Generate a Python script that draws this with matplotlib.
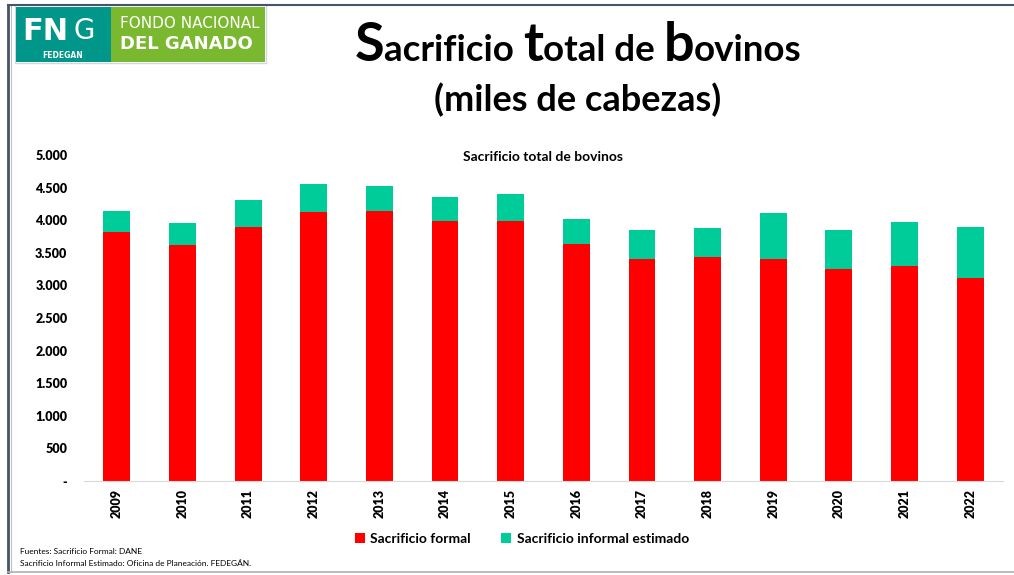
import numpy as np
import matplotlib.pyplot as plt
from matplotlib.patches import Rectangle
from matplotlib.lines import Line2D
from matplotlib.ticker import FuncFormatter

years = ['2009', '2010', '2011', '2012', '2013', '2014', '2015',
         '2016', '2017', '2018', '2019', '2020', '2021', '2022']
formal = [3823, 3620, 3896, 4126, 4136, 3983, 3988,
          3635, 3405, 3435, 3405, 3256, 3302, 3109]
total = [4146, 3962, 4305, 4551, 4524, 4356, 4402,
         4013, 3845, 3876, 4105, 3855, 3972, 3896]
informal = [t - f for t, f in zip(total, formal)]
yticks = [0, 500, 1000, 1500, 2000, 2500, 3000, 3500, 4000, 4500, 5000]

RED = '#ff0000'
GREEN = '#00cc99'
FONT = 'Lato'

W, H = 1014, 575
fig = plt.figure(figsize=(W / 100, H / 100), dpi=100)

def fx(px):
    return px / W

def fy(py):
    return 1 - py / H

# frame lines
fig.add_artist(Line2D([fx(8), fx(8)], [fy(5), fy(572)], color='#44546a', lw=2))
fig.add_artist(Line2D([fx(11), fx(11)], [fy(5), fy(572)], color='#c0c0c0', lw=0.8))
fig.add_artist(Line2D([fx(8), fx(1014)], [fy(5), fy(5)], color='#44546a', lw=1.5))
fig.add_artist(Line2D([fx(8), fx(1014)], [fy(572), fy(572)], color='#b0b0b0', lw=1.2))

# logo
fig.add_artist(Rectangle((fx(15), fy(63)), fx(251), 58 / H, facecolor='white',
                         edgecolor='#cfd8dc', lw=1))
fig.add_artist(Rectangle((fx(16), fy(62)), fx(95), 55 / H, facecolor='#00968a', lw=0))
fig.add_artist(Rectangle((fx(111), fy(62)), fx(154), 55 / H, facecolor='#7ab82f', lw=0))
fig.text(fx(22), fy(31), 'FN', color='white', fontsize=22, fontweight='bold',
         family='DejaVu Sans', va='center', ha='left')
fig.text(fx(84), fy(31), 'G', color='white', fontsize=20, family='DejaVu Sans',
         va='center', ha='center')
fig.text(fx(63), fy(55), 'FEDEGAN', color='white', fontsize=5.5, fontweight='bold',
         family='DejaVu Sans', va='center', ha='center')
fig.text(fx(120), fy(24), 'FONDO NACIONAL', color='white', fontsize=11,
         family='DejaVu Sans', va='center', ha='left')
fig.text(fx(120), fy(44), 'DEL GANADO', color='white', fontsize=13,
         fontweight='bold', family='DejaVu Sans', va='center', ha='left')

# main title with enlarged first letters
pieces = [('S', 39), ('acrificio ', 26.5), ('t', 39), ('otal de ', 26.5),
          ('b', 39), ('ovinos', 26.5)]
renderer = fig.canvas.get_renderer()
texts = []
x = 0.0
for s, size in pieces:
    t = fig.text(0, fy(61), s, fontsize=size, fontweight='bold', family=FONT,
                 va='baseline', ha='left')
    w = t.get_window_extent(renderer).width
    texts.append((t, x))
    x += w
start = 578 - x / 2
for t, off in texts:
    t.set_x(fx(start + off))

fig.text(fx(578), fy(100), '(miles de cabezas)', fontsize=26, fontweight='bold',
         family=FONT, ha='center', va='center')

# chart
ax = fig.add_axes([fx(84), fy(481), fx(1003 - 84), 326 / H])
pos = np.arange(len(years))
ax.bar(pos, formal, width=0.41, color=RED, label='Sacrificio formal')
ax.bar(pos, informal, width=0.41, bottom=formal, color=GREEN,
       label='Sacrificio informal estimado')
ax.set_xlim(-0.5, len(years) - 0.5)
ax.set_ylim(0, 5000)
ax.set_yticks(yticks)
ax.yaxis.set_major_formatter(FuncFormatter(
    lambda v, p: '-' if v == 0 else f'{int(v):,}'.replace(',', '.')))
ax.set_xticks(pos)
ax.set_xticklabels(years, rotation=90)
for lab in ax.get_xticklabels() + ax.get_yticklabels():
    lab.set_fontweight('heavy')
    lab.set_fontsize(9)
    lab.set_family(FONT)
ax.tick_params(length=0)
ax.tick_params(axis='y', pad=12)
ax.tick_params(axis='x', pad=6)
for sp in ['top', 'right', 'left']:
    ax.spines[sp].set_visible(False)
ax.spines['bottom'].set_color('#d9d9d9')

fig.text(fx(543), fy(157), 'Sacrificio total de bovinos', fontsize=10,
         fontweight='bold', family=FONT, ha='center', va='center')

leg = fig.legend(loc='center', bbox_to_anchor=(fx(522), fy(539)), ncol=2,
                 frameon=False, handlelength=0.7, handleheight=0.7,
                 handletextpad=0.4, columnspacing=2.2,
                 prop={'family': FONT, 'weight': 'bold', 'size': 10})

fig.text(fx(20), fy(551), 'Fuentes: Sacrificio Formal: DANE', fontsize=6,
         family=FONT, va='center')
fig.text(fx(20), fy(564), 'Sacrificio Informal Estimado: Oficina de Planeación. FEDEGÁN.',
         fontsize=6, family=FONT, va='center')

fig.savefig('out.png', dpi=100)
